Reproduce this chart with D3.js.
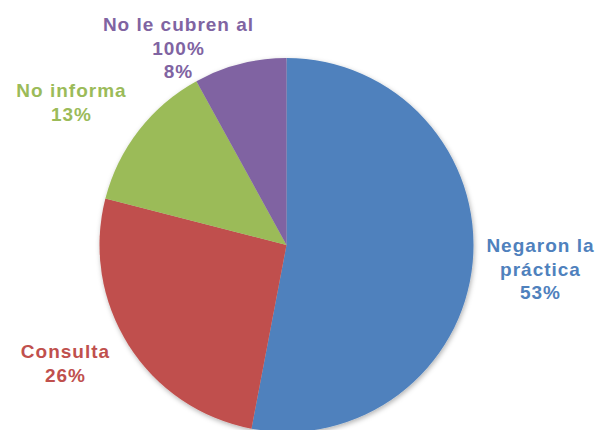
<!DOCTYPE html>
<html><head><meta charset="utf-8">
<script src="https://cdn.jsdelivr.net/npm/d3@7"></script>
<style>html,body{margin:0;padding:0;background:#fff;overflow:hidden}</style>
</head><body>
<svg id="c" width="597" height="430"></svg>
<script>
const categories = ["Negaron la práctica", "Consulta", "No informa", "No le cubren al 100%"];
const values = [53, 26, 13, 8];
const colors = ["#4F81BD", "#C0504D", "#9BBB59", "#8064A2"];
const labelLines = [["Negaron la", "práctica", "53%"], ["Consulta", "26%"], ["No informa", "13%"], ["No le cubren al", "100%", "8%"]];
const labelPos = [[540, 252], [65, 358], [71, 97], [178, 31]];

const svg = d3.select("#c");
const defs = svg.append("defs");
const f = defs.append("filter").attr("id", "sh").attr("x", "-10%").attr("y", "-10%").attr("width", "120%").attr("height", "120%");
f.append("feDropShadow").attr("dx", 1).attr("dy", 2).attr("stdDeviation", 2.5).attr("flood-color", "#000").attr("flood-opacity", 0.3);

const cx = 286.5, cy = 245, r = 187;
const pie = d3.pie().sort(null).value(d => d);
const arc = d3.arc().innerRadius(0).outerRadius(r);
const g = svg.append("g").attr("transform", `translate(${cx},${cy})`).attr("filter", "url(#sh)");
g.selectAll("path").data(pie(values)).join("path")
  .attr("d", arc).attr("fill", (d, i) => colors[i]);

const lbl = svg.append("g").attr("font-family", "Liberation Sans, Arial, sans-serif")
  .attr("font-weight", "bold").attr("font-size", 19).attr("letter-spacing", 1).attr("text-anchor", "middle");
labelLines.forEach((lines, i) => {
  const t = lbl.append("text").attr("fill", colors[i]);
  lines.forEach((s, j) => {
    t.append("tspan").attr("x", labelPos[i][0] + 0.5).attr("y", labelPos[i][1] + j * 23.5).text(s);
  });
});
</script>
</body></html>
